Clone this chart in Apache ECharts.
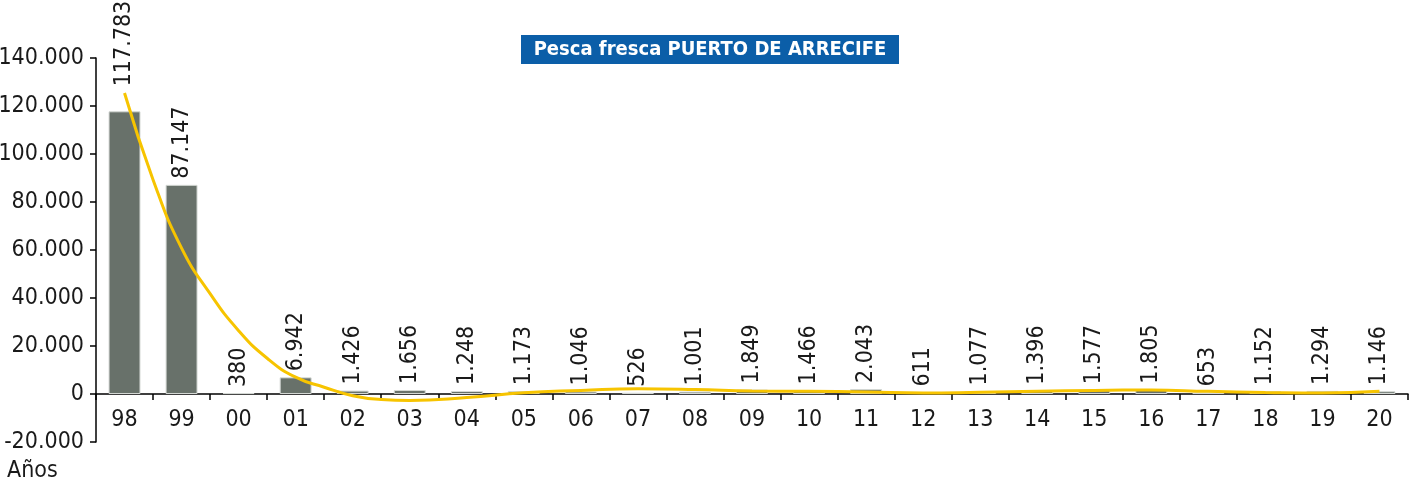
<!DOCTYPE html>
<html>
<head>
<meta charset="utf-8">
<script src="https://cdn.jsdelivr.net/npm/echarts@6/dist/echarts.min.js"></script>
<style>
  html, body { margin: 0; padding: 0; background: #ffffff; }
  #chart { width: 1418px; height: 486px; }
</style>
</head>
<body>
<div id="chart"></div>
<script>
// Landings of fresh fish, Puerto de Arrecife (kg)
const years = ['98', '99', '00', '01', '02', '03', '04', '05', '06', '07', '08', '09',
               '10', '11', '12', '13', '14', '15', '16', '17', '18', '19', '20'];
const catches = [117783, 87147, 380, 6942, 1426, 1656, 1248, 1173, 1046, 526, 1001, 1849,
                 1466, 2043, 611, 1077, 1396, 1577, 1805, 653, 1152, 1294, 1146];
// Polynomial trend line: position (year index) and value
const trendX = [0, 0.5, 1, 1.5, 2, 2.5, 3, 3.5, 4, 4.5, 5, 6, 7, 8, 9, 10, 11,
                12, 13, 14, 15, 16, 17, 18, 19, 20, 21, 22];
const trendY = [125400, 89300, 60800, 41800, 26400, 14900, 7000, 2830, -700, -2300, -2700,
                -1500, 550, 1500, 2200, 1900, 1250, 1100, 850, 400, 700, 1100, 1500, 1650,
                1100, 650, 400, 1100];
const yTicks = { min: -20000, max: 140000, step: 20000 };
const titleText = 'Pesca fresca PUERTO DE ARRECIFE';
const xAxisName = 'Años';

const FONT = "'Liberation Sans Narrow', 'DejaVu Sans Condensed', 'Liberation Sans', sans-serif";
const TEXT = '#1a1a1a';
const fmt = v => v.toLocaleString('de-DE');
const GRID = { left: 96, right: 10, top: 58, bottom: 44 };
const H = 486;

const chart = echarts.init(document.getElementById('chart'), null, { renderer: 'canvas' });

const barData = catches.map((v, i) => i === 0
  ? { value: v, label: { distance: 25 } }
  : v);
const trendData = trendX.map((x, i) => [x, trendY[i]]);

function buildOption(labelOffset) {
  return {
    animation: false,
    backgroundColor: '#ffffff',
    grid: Object.assign({ containLabel: false, outerBoundsMode: 'none' }, GRID),
    xAxis: [
      {
        type: 'category',
        data: years,
        boundaryGap: true,
        axisLine: { onZero: true, lineStyle: { color: '#000000', width: 1.5 } },
        axisTick: { show: true, alignWithLabel: false, length: 6, lineStyle: { color: '#000000', width: 1.5 } },
        axisLabel: { show: false },
        splitLine: { show: false }
      },
      {
        // category labels drawn along the zero line
        type: 'category',
        data: years,
        position: 'bottom',
        offset: labelOffset,
        boundaryGap: true,
        axisLine: { show: false },
        axisTick: { show: false },
        axisLabel: { color: TEXT, fontFamily: FONT, fontSize: 23, margin: 15 },
        splitLine: { show: false }
      },
      {
        // continuous axis over the same band for the trend curve
        type: 'value',
        min: -0.5,
        max: years.length - 0.5,
        show: false
      }
    ],
    yAxis: {
      type: 'value',
      min: yTicks.min,
      max: yTicks.max,
      interval: yTicks.step,
      axisLine: { show: true, onZero: false, lineStyle: { color: '#000000', width: 1.5 } },
      axisTick: { show: true, inside: false, length: 6, lineStyle: { color: '#000000', width: 1.5 } },
      axisLabel: { color: TEXT, fontFamily: FONT, fontSize: 23, margin: 12, formatter: v => fmt(v) },
      splitLine: { show: false }
    },
    series: [
      {
        type: 'bar',
        data: barData,
        barWidth: '56%',
        itemStyle: { color: '#68716a', borderColor: '#d4d8d4', borderWidth: 1 },
        label: {
          show: true,
          position: 'top',
          rotate: 90,
          align: 'left',
          verticalAlign: 'middle',
          distance: 6,
          color: TEXT,
          fontFamily: FONT,
          fontSize: 23,
          formatter: p => fmt(p.value)
        },
        z: 2
      },
      {
        type: 'line',
        xAxisIndex: 2,
        data: trendData,
        smooth: true,
        symbol: 'none',
        lineStyle: { color: '#f7c400', width: 3 },
        z: 3
      }
    ],
    graphic: [
      {
        type: 'group',
        left: 521,
        top: 35,
        children: [
          { type: 'rect', shape: { x: 0, y: 0, width: 378, height: 29 }, style: { fill: '#0b5ea8' } },
          {
            type: 'text',
            x: 189, y: 15,
            style: {
              text: titleText, fill: '#ffffff', font: "bold 20px " + FONT,
              textAlign: 'center', textVerticalAlign: 'middle'
            }
          }
        ]
      },
      {
        type: 'text',
        left: 7,
        top: 460,
        style: { text: xAxisName, fill: TEXT, font: "23px " + FONT }
      }
    ]
  };
}

chart.setOption(buildOption(0));
// move the category labels up to where the value axis crosses zero
const zeroY = chart.convertToPixel({ yAxisIndex: 0 }, 0);
chart.setOption(buildOption(zeroY - (H - GRID.bottom)));
</script>
</body>
</html>
